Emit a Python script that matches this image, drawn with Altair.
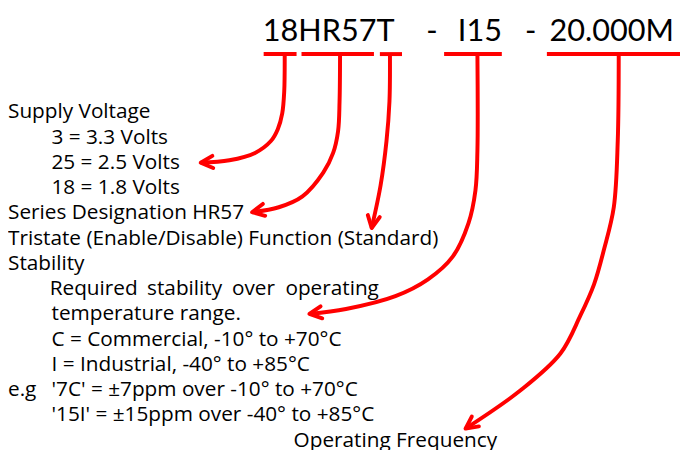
import altair as alt
import pandas as pd

# ---------------- content ----------------
code_parts = ["18HR57T", "-", "I15", "-", "20.000M"]
code_cx = [332.5, 437, 485.5, 537, 619]
code_base = 38.5

desc_lines = [
    "Supply Voltage",
    "3 = 3.3 Volts",
    "25 = 2.5 Volts",
    "18 = 1.8 Volts",
    "Series Designation HR57",
    "Tristate (Enable/Disable) Function (Standard)",
    "Stability",
    "temperature range.",
    "C = Commercial, -10° to +70°C",
    "I = Industrial, -40° to +85°C",
    "e.g",
    "'7C' = ±7ppm over -10° to +70°C",
    "'15I' = ±15ppm over -40° to +85°C",
    "Operating Frequency",
]
desc_x = [8, 52, 52, 52, 8, 8, 8, 52, 52, 52, 8, 52, 52, 297]
desc_y = [116.5, 142.5, 168, 194, 219, 245, 270.5, 321.5, 347, 372.5, 398, 398, 423.5, 449.5]

just_words = ["Required", "stability", "over", "operating"]
just_cx = [94.7, 186.7, 256.3, 336]
just_y = 296

# brackets under the part-number groups
br_x1 = [266.7, 305, 384.3, 449.3, 553.3]
br_x2 = [300, 378.3, 406.7, 507.7, 688]
br_y = 52

# arrow paths (stem -> tip)
arrow1_x = [288, 287.5, 285.5, 281, 274, 258, 232, 203]
arrow1_y = [52, 90, 112, 128, 140, 152, 159.5, 162]
arrow2_x = [344, 343.5, 342, 337, 327, 306, 282, 255]
arrow2_y = [52, 100, 130, 152, 172, 196, 207, 212]
arrow3_x = [394.5, 394, 391, 385, 376]
arrow3_y = [52, 100, 140, 185, 228]
arrow4_x = [483, 483, 481, 474, 458, 433, 400, 350, 313]
arrow4_y = [52, 150, 190, 223, 257, 280, 297, 310, 315]
arrow5_x = [626, 625, 621, 611, 601, 587, 567, 527, 471]
arrow5_y = [52, 140, 207, 250, 285, 317, 355, 392, 431]
tip_angle = [176, 169, 100, 172, 144]

RED = "#ff0000"
FONT = "Open Sans"
CODE_FONT = "Lato"

X = alt.Scale(domain=[8, 688])
Y = alt.Scale(domain=[8, 450], reverse=True)

# ---------------- data frames ----------------
arrows = [(arrow1_x, arrow1_y), (arrow2_x, arrow2_y), (arrow3_x, arrow3_y),
          (arrow4_x, arrow4_y), (arrow5_x, arrow5_y)]
rows = []
tips = []
for i, (xs, ys) in enumerate(arrows):
    for j, (xx, yy) in enumerate(zip(xs, ys)):
        rows.append({"arrow": f"a{i}", "o": j, "x": xx, "y": yy})
    tips.append({"x": xs[-1], "y": ys[-1], "ang": tip_angle[i]})
arrow_df = pd.DataFrame(rows)
tip_df = pd.DataFrame(tips)
br_df = pd.DataFrame({"x": br_x1, "x2": br_x2, "y": [br_y] * len(br_x1)})
code_df = pd.DataFrame({"t": code_parts, "x": code_cx, "y": [code_base] * len(code_parts)})
desc_df = pd.DataFrame({"t": desc_lines, "x": desc_x, "y": desc_y})
just_df = pd.DataFrame({"t": just_words, "x": just_cx, "y": [just_y] * len(just_words)})

# ---------------- layers ----------------
lines = alt.Chart(arrow_df).mark_line(
    color=RED, strokeWidth=4, interpolate="catmull-rom", strokeCap="butt"
).encode(
    x=alt.X("x:Q", scale=X, axis=None),
    y=alt.Y("y:Q", scale=Y, axis=None),
    detail="arrow:N",
    order="o:Q",
)

heads = alt.Chart(tip_df).mark_point(
    shape="M-2,-1L0,0L-2,1", filled=False, stroke=RED, strokeWidth=4,
    size=150, opacity=1, strokeJoin="round", strokeCap="round"
).encode(
    x=alt.X("x:Q", scale=X, axis=None),
    y=alt.Y("y:Q", scale=Y, axis=None),
    angle=alt.Angle("ang:Q", scale=None),
)

brackets = alt.Chart(br_df).mark_rule(color=RED, strokeWidth=4).encode(
    x=alt.X("x:Q", scale=X, axis=None),
    x2="x2:Q",
    y=alt.Y("y:Q", scale=Y, axis=None),
)

code_text = alt.Chart(code_df).mark_text(
    font=CODE_FONT, fontSize=31, align="center", baseline="alphabetic", color="black"
).encode(
    x=alt.X("x:Q", scale=X, axis=None),
    y=alt.Y("y:Q", scale=Y, axis=None),
    text="t:N",
)

desc_text = alt.Chart(desc_df).mark_text(
    font=FONT, fontSize=21, align="left", baseline="alphabetic", color="black"
).encode(
    x=alt.X("x:Q", scale=X, axis=None),
    y=alt.Y("y:Q", scale=Y, axis=None),
    text="t:N",
)

just_text = alt.Chart(just_df).mark_text(
    font=FONT, fontSize=21, align="center", baseline="alphabetic", color="black"
).encode(
    x=alt.X("x:Q", scale=X, axis=None),
    y=alt.Y("y:Q", scale=Y, axis=None),
    text="t:N",
)

chart = alt.layer(brackets, lines, heads, code_text, desc_text, just_text).properties(
    width=680, height=442, padding=0, autosize=alt.AutoSizeParams(type="none")
).configure(background="white", view=alt.ViewConfig(strokeWidth=0, stroke=None))

chart.save("out.html", embed_options={"renderer": "svg", "actions": False})
